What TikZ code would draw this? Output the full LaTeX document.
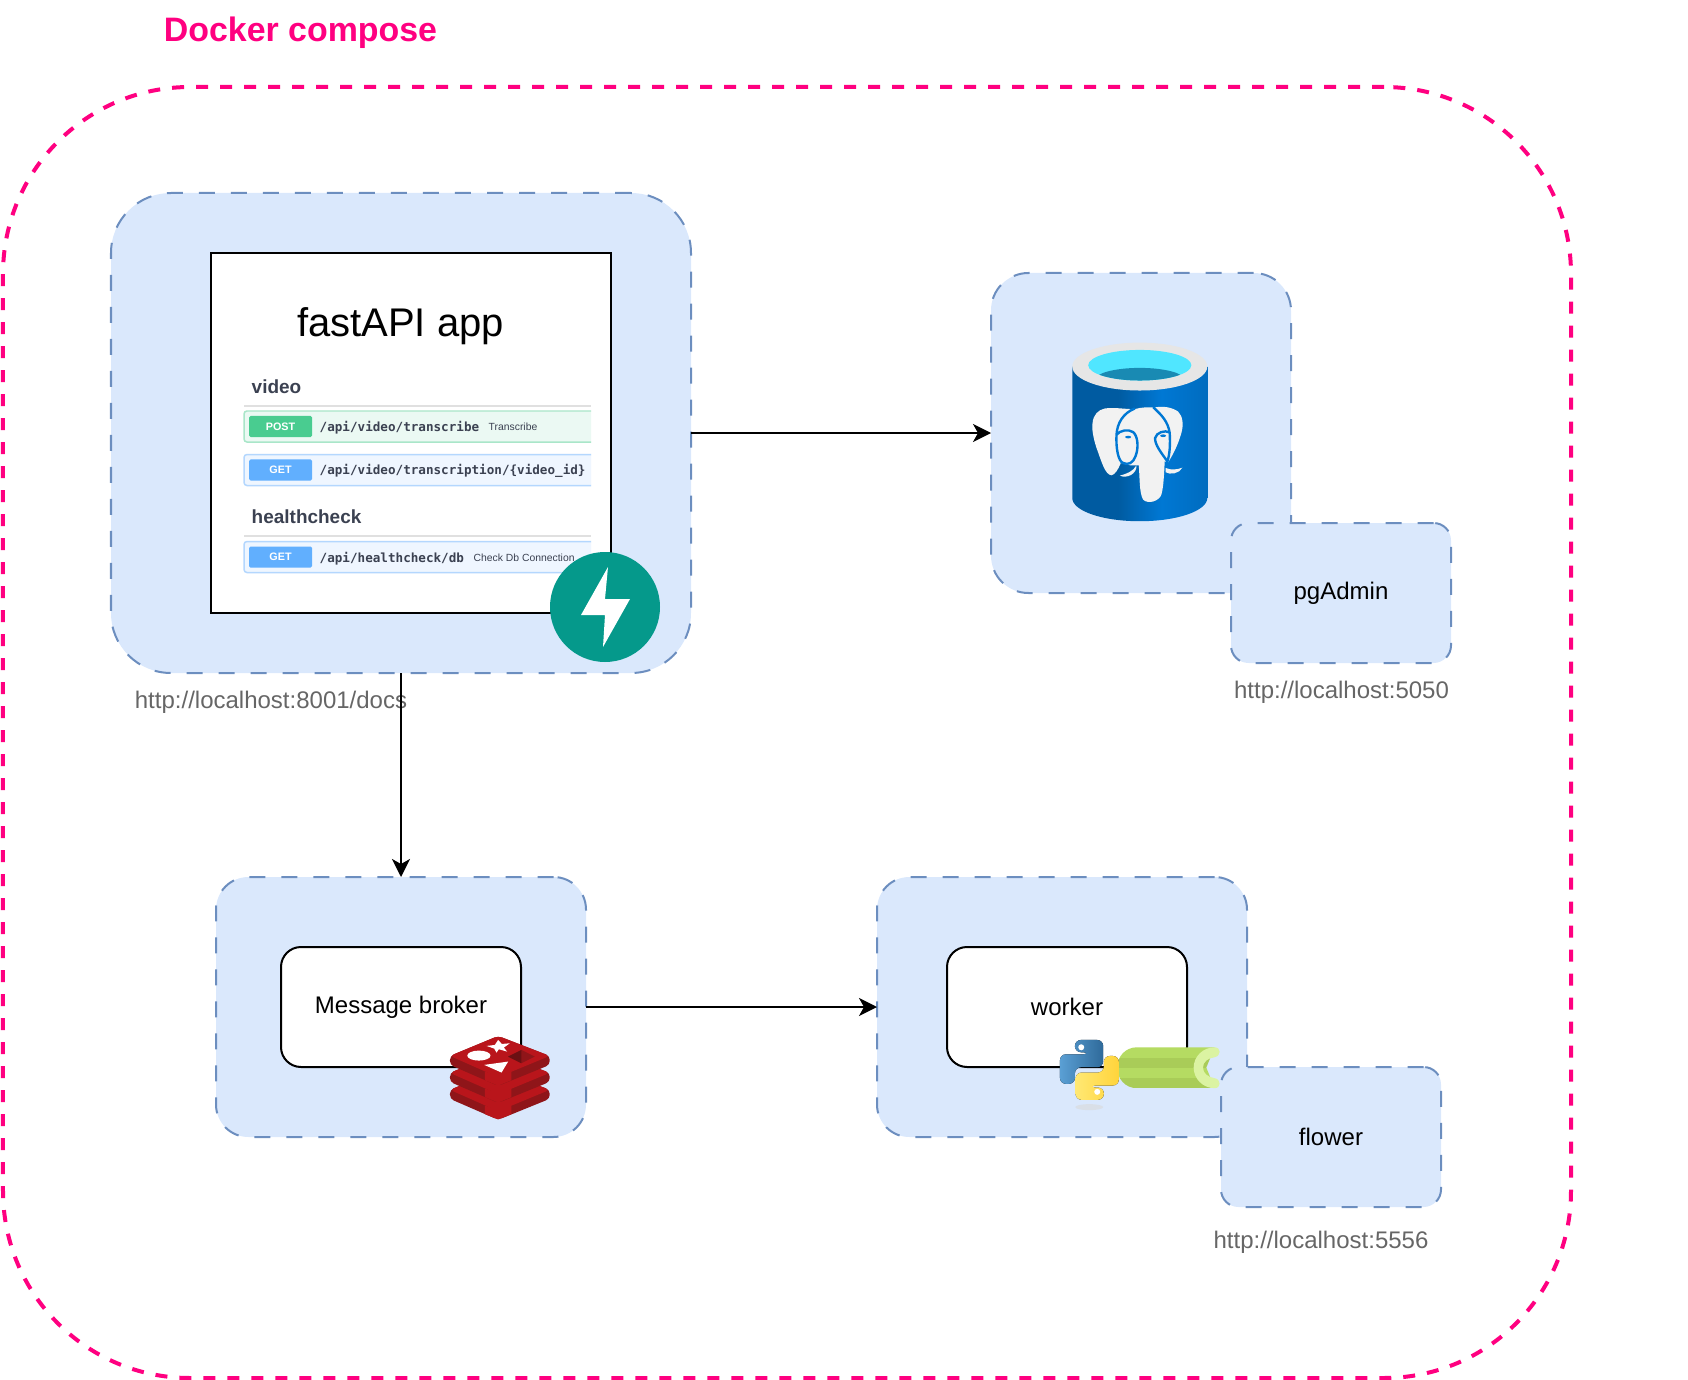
\documentclass[tikz,border=0pt]{standalone}
\usepackage{fontspec}
\setmainfont{Liberation Sans}
\newfontfamily\pathfont{DejaVu Sans Mono}
\usetikzlibrary{arrows.meta}

\definecolor{composepink}{HTML}{FF0080}
\definecolor{boxfill}{HTML}{DAE8FC}
\definecolor{boxline}{HTML}{6C8EBF}
\definecolor{urlgray}{HTML}{666666}
\definecolor{swaggertext}{HTML}{3B4151}
\definecolor{postbtn}{HTML}{49CC90}
\definecolor{postfill}{HTML}{EBF9F3}
\definecolor{postline}{HTML}{A9E6C9}
\definecolor{getbtn}{HTML}{61AFFE}
\definecolor{getfill}{HTML}{EFF6FF}
\definecolor{getline}{HTML}{B4D7FE}
\definecolor{fastgreen}{HTML}{05998B}
\definecolor{pgdark}{HTML}{005BA1}
\definecolor{pgmid}{HTML}{0078D4}
\definecolor{pgright}{HTML}{006CBF}
\definecolor{pgring}{HTML}{E6E6E6}
\definecolor{pgwater}{HTML}{50E6FF}
\definecolor{pgdeep}{HTML}{198AB3}
\definecolor{elephantwhite}{HTML}{F2F2F2}
\definecolor{redisbright}{HTML}{B9151B}
\definecolor{redisdark}{HTML}{8F1519}
\definecolor{celerylight}{HTML}{B5DB62}
\definecolor{celerydark}{HTML}{A9CC58}
\definecolor{celeryring}{HTML}{DBF3A2}
\definecolor{pyblueA}{HTML}{5A9FD4}
\definecolor{pyblueB}{HTML}{2F6A9A}
\definecolor{pyyellowA}{HTML}{FFE873}
\definecolor{pyyellowB}{HTML}{FFD43B}

\pgfdeclarehorizontalshading{pgbody}{100bp}{color(0bp)=(pgdark); color(25bp)=(pgdark); color(42bp)=(pgdark); color(58bp)=(pgmid); color(75bp)=(pgright); color(100bp)=(pgright)}

\tikzset{
    svcbox/.style={draw=boxline, fill=boxfill, line width=0.02cm, dash pattern=on 0.16cm off 0.16cm,
        inner sep=0pt, outer sep=0pt, font=\fontsize{6.83}{8}\selectfont},
    whitebox/.style={draw=black, fill=white, line width=0.02cm, inner sep=0pt, outer sep=0pt,
        font=\fontsize{6.83}{8}\selectfont},
    urltext/.style={text=urlgray, inner sep=0pt, font=\fontsize{6.83}{8}\selectfont},
    flow/.style={draw=black, line width=0.02cm, -{Stealth[length=0.18cm, width=0.18cm, inset=0.05cm]}},
    swaggerhead/.style={anchor=base west, inner sep=0pt, text=swaggertext, font=\fontsize{5.4}{6}\selectfont\bfseries},
    swaggerpath/.style={anchor=base west, inner sep=0pt, text=swaggertext, font=\fontsize{3.59}{4}\selectfont\pathfont\bfseries},
    swaggerdesc/.style={anchor=base west, inner sep=0pt, text=swaggertext, font=\fontsize{2.95}{3.5}\selectfont},
    methodbtn/.style={text=white, inner sep=0pt, rounded corners=0.015cm, minimum width=0.63cm, minimum height=0.21cm,
        font=\fontsize{3.07}{4}\selectfont\bfseries}
}

\begin{document}
\begin{tikzpicture}[y=-1cm]
    \useasboundingbox (0,0) rectangle (16.88,13.8);

    % Compose frame
    \node[draw=composepink, line width=0.04cm, dash pattern=on 0.12cm off 0.12cm, rounded corners=1.87cm,
        minimum width=15.68cm, minimum height=12.91cm, inner sep=0pt] (compose) at (7.87,7.325) {};
    \node[text=composepink, inner sep=0pt, anchor=base, font=\fontsize{9.65}{11}\selectfont\bfseries] (composetitle) at (3.005,0.42) {Docker compose};

    % Service boxes
    \node[svcbox, rounded corners=0.6cm, minimum width=5.8cm, minimum height=4.8cm] (app) at (4.01,4.33) {};
    \node[svcbox, rounded corners=0.375cm, minimum width=3cm, minimum height=3.2cm] (pg) at (11.41,4.33) {};
    \node[svcbox, rounded corners=0.325cm, minimum width=3.7cm, minimum height=2.6cm] (broker) at (4.01,10.07) {};
    \node[svcbox, rounded corners=0.325cm, minimum width=3.7cm, minimum height=2.6cm] (worker) at (10.62,10.07) {};

    % Swagger page
    \node[whitebox, minimum width=4cm, minimum height=3.6cm] (appframe) at (4.11,4.33) {};
    \node[inner sep=0pt, font=\fontsize{11.38}{13}\selectfont, anchor=base] (apptitle) at (4.005,3.365) {fastAPI app};
    \node[swaggerhead] (videohead) at (2.51,3.93) {video};
    \node[swaggerhead] (healthhead) at (2.51,5.23) {healthcheck};
    \foreach \ruley in {4.06,5.36}
        \draw[black!12, line width=0.015cm] (2.44,\ruley) -- (5.91,\ruley);
    \foreach \i/\y/\m/\c/\p in {1/4.265/POST/post/{/api/video/transcribe},
                                2/4.70/GET/get/{/api/video/transcription/\{video\_id\}},
                                3/5.57/GET/get/{/api/healthcheck/db}} {
        \filldraw[draw=\c line, fill=\c fill, line width=0.015cm, rounded corners=0.03cm]
            (5.91,\y-0.155) -- (2.44,\y-0.155) -- (2.44,\y+0.155) -- (5.91,\y+0.155);
        \node[methodbtn, fill=\c btn] (btn\i) at (2.805,\y) {\m};
        \node[swaggerpath] (path\i) at (3.19,\y+0.05) {\p};
    }
    \node[swaggerdesc] (desc1) at (4.88,4.305) {Transcribe};
    \node[swaggerdesc] (desc3) at (4.73,5.61) {Check Db Connection};

    % FastAPI logo
    \node[circle, fill=fastgreen, minimum size=1.1cm, inner sep=0pt] (fastlogo) at (6.05,6.07) {};
    \fill[white] (6.08,5.67) -- (5.81,6.15) -- (6.05,6.15) -- (6.03,6.47) -- (6.30,5.99) -- (6.05,5.99) -- cycle;

    % Postgres icon
    \begin{scope}[shift={(10.4,3.2)}, x=0.003333cm, y=-0.003333cm]
        \shade[shading=pgbody] (97,140) -- (97,535) .. controls (97,574) and (188,605) .. (300,605)
            .. controls (412,605) and (503,574) .. (503,535) -- (503,140) -- cycle;
        \fill[pgring] (300,140) ellipse [x radius=203, y radius=72];
        \fill[pgwater] (300,136) ellipse [x radius=155, y radius=46];
        \begin{scope}
            \clip (300,136) ellipse [x radius=155, y radius=46];
            \fill[pgdeep] (300,180) ellipse [x radius=135, y radius=36];
        \end{scope}
        \fill[elephantwhite] (195,266) .. controls (225,262) and (250,268) .. (285,268)
            .. controls (305,262) and (325,262) .. (345,263) .. controls (370,258) and (395,262) .. (415,275)
            .. controls (430,290) and (432,315) .. (425,340) .. controls (415,375) and (400,405) .. (385,428)
            -- (375,425) .. controls (373,460) and (372,500) .. (365,525) .. controls (358,545) and (325,555) .. (310,540)
            .. controls (298,520) and (300,470) .. (297,437) -- (272,437) -- (243,430)
            .. controls (235,450) and (225,465) .. (215,467) .. controls (195,465) and (185,425) .. (170,385)
            .. controls (160,355) and (155,325) .. (158,310) .. controls (160,285) and (175,270) .. (195,266) -- cycle;
        \draw[pgmid, line width=0.024cm] (285,266) .. controls (250,280) and (232,310) .. (230,345)
            .. controls (228,385) and (235,425) .. (250,430) .. controls (265,437) and (280,430) .. (287,410)
            .. controls (297,385) and (295,350) .. (280,337) .. controls (265,327) and (240,332) .. (230,345);
        \draw[pgmid, line width=0.024cm] (340,262) .. controls (365,285) and (385,305) .. (390,340)
            .. controls (392,375) and (390,405) .. (383,425) .. controls (365,400) and (345,375) .. (346,355)
            .. controls (350,338) and (375,330) .. (390,338);
        \fill[pgmid] (265,352) ellipse [x radius=9, y radius=4];
        \fill[pgmid] (370,348) ellipse [x radius=9, y radius=4];
        \fill[elephantwhite] (240,468) .. controls (262,462) and (280,455) .. (290,437) .. controls (292,462) and (262,478) .. (240,468) -- cycle;
        \fill[elephantwhite] (378,445) .. controls (395,452) and (412,450) .. (428,444) .. controls (420,462) and (390,466) .. (378,458) -- cycle;
    \end{scope}
    \node[svcbox, rounded corners=0.175cm, minimum width=2.2cm, minimum height=1.4cm] (pgadmin) at (13.41,5.93) {pgAdmin};

    % Message broker and its redis icon
    \node[whitebox, rounded corners=0.2cm, minimum width=2.4cm, minimum height=1.2cm] (brokercore) at (4.01,10.07) {Message broker};
    \begin{scope}[shift={(4.3,10.2)}, x=0.003333cm, y=-0.003333cm]
        \foreach \dy in {102,51,0} {
            \fill[redisdark, rounded corners=0.04cm] (60,108+\dy) -- (205,48+\dy) -- (360,108+\dy) -- (360,135+\dy)
                -- (205,198+\dy) -- (60,135+\dy) -- cycle;
            \fill[redisbright, rounded corners=0.04cm] (60,108+\dy) -- (205,48+\dy) -- (360,108+\dy)
                -- (205,172+\dy) -- cycle;
            \fill[redisbright] (165,155+\dy) -- (205,168+\dy) -- (245,155+\dy) -- (245,181+\dy) -- (205,197+\dy) -- (165,181+\dy) -- cycle;
        }
        \fill[white] (147,107) ellipse [x radius=35, y radius=15];
        \fill[white] (170,78) -- (195,75) -- (205,60) -- (216,72) -- (240,70) -- (222,83) -- (232,95) -- (207,88) -- (200,98) -- (193,86) -- cycle;
        \fill[white] (163,135) -- (235,125) -- (215,158) -- cycle;
        \fill[redisdark] (235,110) -- (275,90) -- (315,110) -- (275,130) -- cycle;
        \fill[redisdark!75!black] (235,110) -- (275,90) -- (275,130) -- cycle;
    \end{scope}

    % Worker with python and celery icons
    \node[whitebox, rounded corners=0.2cm, minimum width=2.4cm, minimum height=1.2cm] (workercore) at (10.67,10.07) {worker};
    \begin{scope}[shift={(10.4,10.2)}, x=0.003333cm, y=-0.003333cm]
        \begin{scope}
            \clip (292,82) .. controls (255,82) and (232,112) .. (232,143) .. controls (232,175) and (255,205) .. (292,205)
                -- (525,205) -- (500,143) -- (525,82) -- cycle;
            \foreach \ya/\yb/\bandcol in {82/113/celerylight, 113/143/celerydark, 143/175/celerylight, 175/205/celerydark}
                \fill[\bandcol] (232,\ya) rectangle (540,\yb);
        \end{scope}
        \fill[celeryring] (525,82) .. controls (490,82) and (462,110) .. (462,143) .. controls (462,177) and (490,205) .. (525,205)
            .. controls (545,205) and (545,178) .. (525,175) .. controls (505,172) and (490,160) .. (490,143)
            .. controls (490,126) and (505,114) .. (525,112) .. controls (545,108) and (545,82) .. (525,82) -- cycle;
        \fill[black!15, opacity=0.6] (148,262) ellipse [x radius=42, y radius=9];
        \fill[left color=pyblueA, right color=pyblueB, rounded corners=0.06cm]
            (105,97) -- (105,60) -- (190,60) -- (190,142) -- (105,142) -- (105,192) -- (60,192) -- (60,103) -- (148,103) -- (148,97) -- cycle;
        \fill[left color=pyyellowA, right color=pyyellowB, rounded corners=0.06cm, rotate around={180:(148.5,150)}]
            (105,97) -- (105,60) -- (190,60) -- (190,142) -- (105,142) -- (105,192) -- (60,192) -- (60,103) -- (148,103) -- (148,97) -- cycle;
        \fill[white] (124,82) circle [radius=9];
        \fill[white] (172,216) circle [radius=9];
    \end{scope}
    \node[svcbox, rounded corners=0.175cm, minimum width=2.2cm, minimum height=1.4cm] (flower) at (13.31,11.37) {flower};

    % Addresses
    \node[urltext] (appurl) at (2.71,7.02) {http://localhost:8001/docs};
    \node[urltext] (pgurl) at (13.415,6.92) {http://localhost:5050};
    \node[urltext] (flowerurl) at (13.21,12.42) {http://localhost:5556};

    % Connections
    \draw[flow] (app) -- (pg);
    \draw[flow] (app) -- (broker);
    \draw[flow] (broker) -- (worker);

\end{tikzpicture}
\end{document}
